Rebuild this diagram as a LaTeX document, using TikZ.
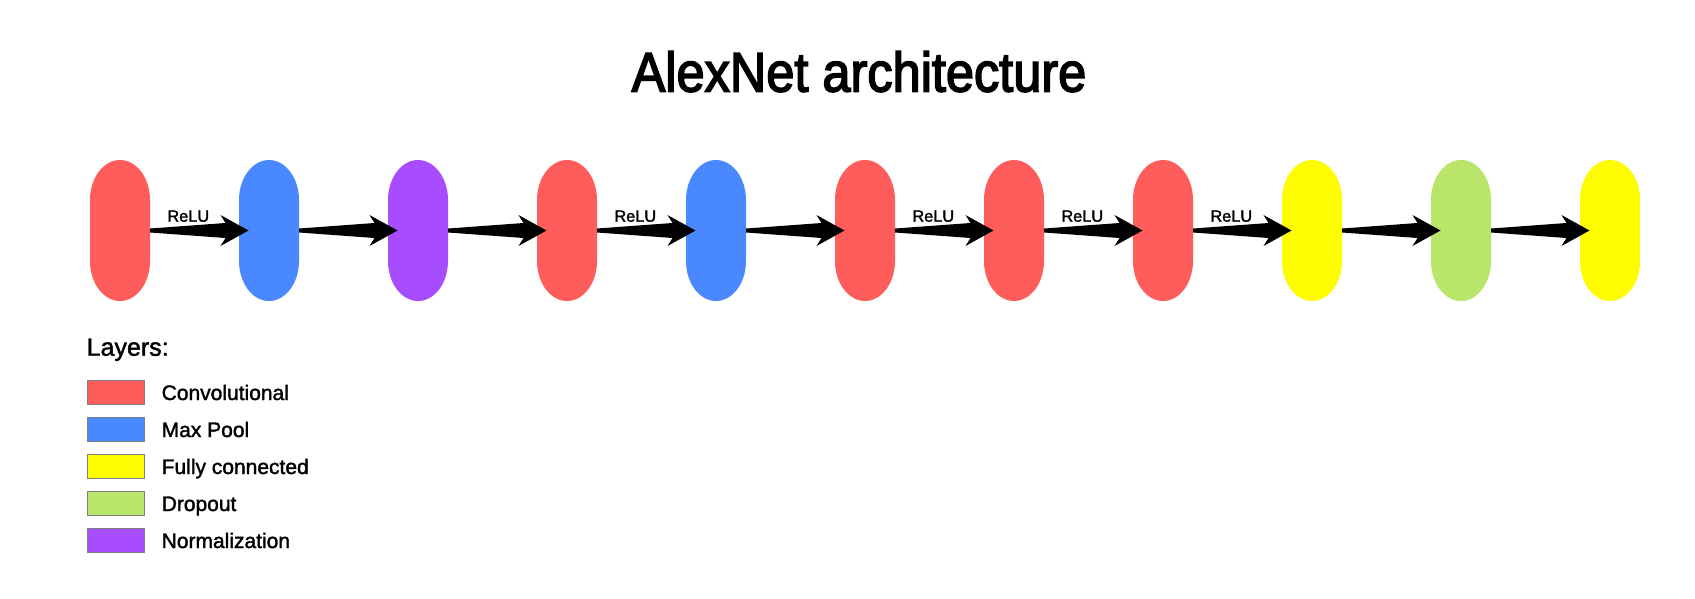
\documentclass[tikz,border=0pt]{standalone}
\usepackage{fontspec}
\setmainfont{Liberation Sans}[FakeBold=1.6]
\newfontfamily\titlefont{Liberation Sans}[FakeBold=3]
\usetikzlibrary{calc}
\definecolor{cconv}{HTML}{FF5C5C}
\definecolor{cpool}{HTML}{4A88FF}
\definecolor{cfc}{HTML}{FFFC00}
\definecolor{cdrop}{HTML}{B8E56A}
\definecolor{cnorm}{HTML}{A84CFF}
\definecolor{cedge}{HTML}{808080}
\newcommand\alexarrow[2]{%
  \fill ($(#1.east)+(0,2pt)$) -- ($(#2.west)+(-13.5pt,7.5pt)$) -- ($(#2.west)+(-18.5pt,15.5pt)$)
   -- ($(#2.west)+(9.5pt,0)$) -- ($(#2.west)+(-18.5pt,-15.5pt)$) -- ($(#2.west)+(-13.5pt,-7.5pt)$)
   -- ($(#1.east)+(0,-2pt)$) -- cycle;}
\tikzset{
  layer/.style={minimum width=60pt, minimum height=141pt, inner sep=0pt, outer sep=0pt,
    path picture={\fill[#1] ($(path picture bounding box.center)+(-30pt,-30.5pt)$) -- ++(0,61pt)
      arc[start angle=180,end angle=0,x radius=30pt,y radius=40pt] -- ++(0,-61pt)
      arc[start angle=0,end angle=-180,x radius=30pt,y radius=40pt] -- cycle;}},
  relu/.style={anchor=base, inner sep=0pt, font=\fontsize{16.3}{19}\selectfont},
  titletext/.style={anchor=base, inner sep=0pt, font=\titlefont\fontsize{50.5}{60}\selectfont},
  legendhead/.style={anchor=base west, inner sep=0pt, font=\fontsize{25}{30}\selectfont},
  legendtext/.style={anchor=base west, inner sep=0pt, font=\fontsize{21}{25}\selectfont},
  swatch/.style={draw=cedge, line width=1pt, fill=#1, minimum width=57pt, minimum height=24pt, inner sep=0pt, outer sep=0pt},
}
\begin{document}
\begin{tikzpicture}[x=1pt,y=-1pt]
\fill[white] (0,0) rectangle (1695,598);
\useasboundingbox (0,0) rectangle (1695,598);
\node[titletext] (title) at (859,91.5) {\scalebox{1}[1.1]{AlexNet architecture}};
% layers
\node[layer=cconv] (n1) at (120,230.5) {};
\node[layer=cpool] (n2) at (269,230.5) {};
\node[layer=cnorm] (n3) at (418,230.5) {};
\node[layer=cconv] (n4) at (567,230.5) {};
\node[layer=cpool] (n5) at (716,230.5) {};
\node[layer=cconv] (n6) at (865,230.5) {};
\node[layer=cconv] (n7) at (1014,230.5) {};
\node[layer=cconv] (n8) at (1163,230.5) {};
\node[layer=cfc] (n9) at (1312,230.5) {};
\node[layer=cdrop] (n10) at (1461,230.5) {};
\node[layer=cfc] (n11) at (1610,230.5) {};
% connectors
\alexarrow{n1}{n2}
\alexarrow{n2}{n3}
\alexarrow{n3}{n4}
\alexarrow{n4}{n5}
\alexarrow{n5}{n6}
\alexarrow{n6}{n7}
\alexarrow{n7}{n8}
\alexarrow{n8}{n9}
\alexarrow{n9}{n10}
\alexarrow{n10}{n11}
% labels
\node[relu] (r1) at ($(n1.east)+(38.3pt,8.8pt)$) {ReLU};
\node[relu] (r4) at ($(n4.east)+(38.3pt,8.8pt)$) {ReLU};
\node[relu] (r6) at ($(n6.east)+(38.3pt,8.8pt)$) {ReLU};
\node[relu] (r7) at ($(n7.east)+(38.3pt,8.8pt)$) {ReLU};
\node[relu] (r8) at ($(n8.east)+(38.3pt,8.8pt)$) {ReLU};
% legend
\node[legendhead] (lh) at (86.5,355.7) {Layers:};
\node[swatch=cconv] (s1) at (116,392.3) {};
\node[swatch=cpool] (s2) at (116,429.3) {};
\node[swatch=cfc] (s3) at (116,466.3) {};
\node[swatch=cdrop] (s4) at (116,503.3) {};
\node[swatch=cnorm] (s5) at (116,540.3) {};
\node[legendtext] (t1) at ($(s1.east)+(17pt,-7.7pt)$) {Convolutional};
\node[legendtext] (t2) at ($(s2.east)+(17pt,-7.7pt)$) {Max Pool};
\node[legendtext] (t3) at ($(s3.east)+(17pt,-7.7pt)$) {Fully connected};
\node[legendtext] (t4) at ($(s4.east)+(17pt,-7.7pt)$) {Dropout};
\node[legendtext] (t5) at ($(s5.east)+(17pt,-7.7pt)$) {Normalization};
\end{tikzpicture}
\end{document}
